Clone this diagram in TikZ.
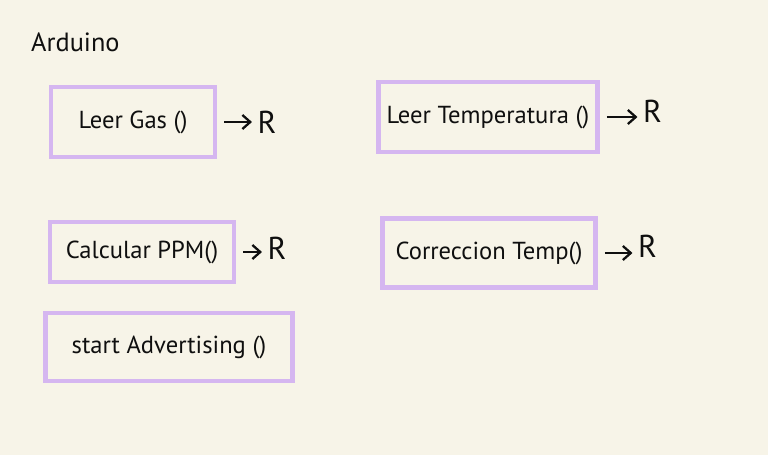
\documentclass[tikz,border=0pt]{standalone}
\usepackage{fontspec}
\setmainfont{PT Sans}
\usepackage{tikz}
\usetikzlibrary{arrows.meta, positioning}
\definecolor{paper}{RGB}{247,244,232}
\definecolor{lilac}{RGB}{213,182,240}
\definecolor{ink}{RGB}{15,15,15}
\tikzset{
  funcbox/.style={rectangle,draw=lilac,line width=2.6pt,fill=paper,text=ink,align=center,font=\fontsize{14}{16}\selectfont},
  retnode/.style={text=ink,inner sep=0pt,font=\fontsize{18}{20}\selectfont},
  retarr/.style={-{Straight Barb[length=4.5pt,width=8pt]},line width=1.3pt,color=ink,shorten <=4pt,shorten >=3pt}
}

\begin{document}
\begin{tikzpicture}[x=0.02cm,y=-0.02cm]
  \fill[paper] (0,0) rectangle (768,455);
  \useasboundingbox (0,0) rectangle (768,455);

  \node[text=ink,font=\fontsize{15}{17}\selectfont,anchor=west] (title) at (25,42) {Arduino};

  \node[funcbox,minimum width=3.28cm,minimum height=1.4cm] (gas) at (133,122) {Leer Gas ()};
  \node[funcbox,minimum width=4.38cm,minimum height=1.4cm] (temp) at (488,117) {Leer Temperatura ()};
  \node[funcbox,minimum width=3.68cm,minimum height=1.2cm] (ppm) at (142,252) {Calcular PPM()};
  \node[funcbox,minimum width=4.26cm,minimum height=1.38cm] (corr) at (489,253) {Correccion Temp()};
  \node[funcbox,minimum width=4.94cm,minimum height=1.36cm] (adv) at (169,347) {start Advertising ()};

  \node[retnode,right=0.8cm of gas] (rgas) {R};
  \node[retnode,right=0.86cm of temp,yshift=3pt] (rtemp) {R};
  \node[retnode,right=0.62cm of ppm,yshift=2pt] (rppm) {R};
  \node[retnode,right=0.8cm of corr,yshift=4pt] (rcorr) {R};

  \draw[retarr] (gas.east) -- (rgas.west |- gas.east);
  \draw[retarr] (temp.east) -- (rtemp.west |- temp.east);
  \draw[retarr] (ppm.east) -- (rppm.west |- ppm.east);
  \draw[retarr] (corr.east) -- (rcorr.west |- corr.east);
\end{tikzpicture}
\end{document}
